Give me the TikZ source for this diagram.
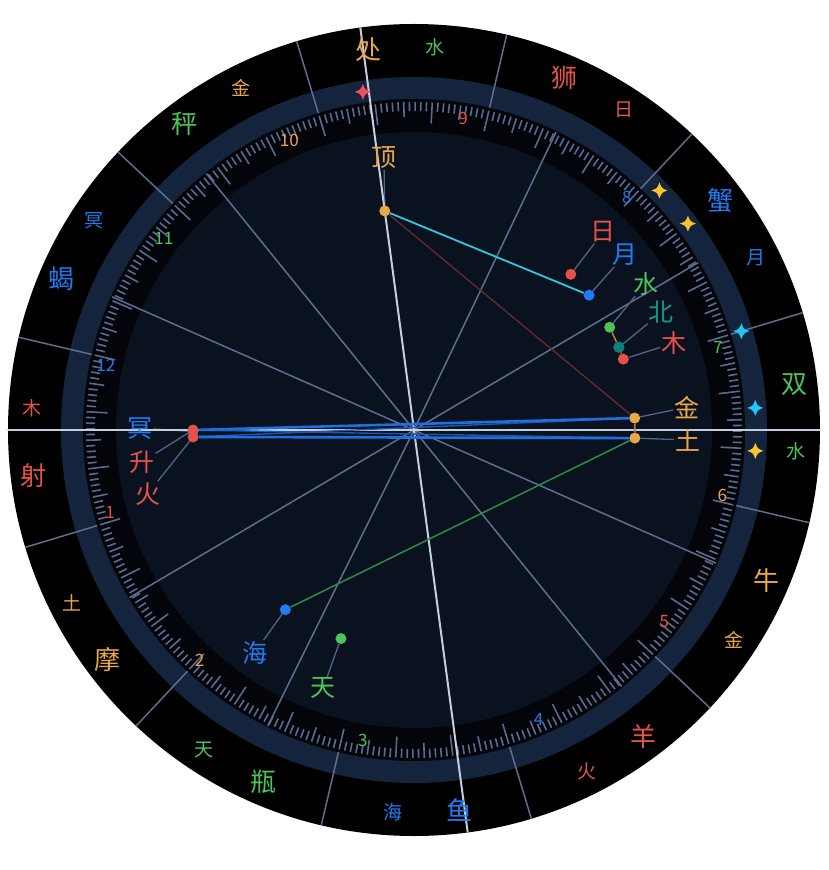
\documentclass[tikz,border=0pt]{standalone}
\usepackage{fontspec}
\setmainfont{Noto Sans CJK SC}
\usepackage{xcolor}
\definecolor{ChartRed}{RGB}{229,82,74}
\definecolor{ChartGold}{RGB}{233,167,72}
\definecolor{ChartGreen}{RGB}{76,196,87}
\definecolor{ChartBlue}{RGB}{31,123,240}
\definecolor{ChartTeal}{RGB}{28,150,140}
\definecolor{DotTeal}{RGB}{18,128,122}
\definecolor{OuterBlack}{RGB}{0,0,0}
\definecolor{BandNavy}{RGB}{20,36,60}
\definecolor{TickBlack}{RGB}{3,5,10}
\definecolor{DiskNavy}{RGB}{10,18,32}
\definecolor{TickGray}{RGB}{92,106,142}
\definecolor{CuspGray}{RGB}{95,110,142}
\definecolor{AxisGray}{RGB}{197,206,220}
\definecolor{LeaderGray}{RGB}{86,98,138}
\definecolor{AspCyan}{RGB}{46,200,224}
\definecolor{AspMaroon}{RGB}{106,46,48}
\definecolor{AspGreen}{RGB}{47,138,74}
\definecolor{AspBlue}{RGB}{30,111,224}
\definecolor{AspBlueDark}{RGB}{26,88,180}
\definecolor{AspGold}{RGB}{170,130,60}
\definecolor{StarRed}{RGB}{240,80,90}
\definecolor{StarYellow}{RGB}{245,197,48}
\definecolor{StarCyan}{RGB}{30,200,245}
\usetikzlibrary{calc}
\pgfdeclarelayer{ring}
\pgfdeclarelayer{link}
\pgfsetlayers{ring,link,main}
\tikzset{
  % Zodiac sign and ruler text
  signlbl/.style={inner sep=1pt, font=\fontsize{26}{30}\selectfont},
  rulerlbl/.style={inner sep=1pt, font=\fontsize{19}{22}\selectfont},
  % House numbers on the tick ring
  housenum/.style={inner sep=1pt, font=\fontsize{17}{20}\selectfont},
  % Planet dot and label
  pdot/.style={circle, minimum size=11, inner sep=0pt},
  planetlbl/.style={inner sep=1pt, font=\fontsize{25}{28}\selectfont},
  % Lines
  tickline/.style={TickGray, line width=1.6},
  signline/.style={CuspGray, line width=1.5},
  cuspline/.style={CuspGray, line width=1.5},
  axisline/.style={AxisGray, line width=2},
  leader/.style={LeaderGray, line width=1.3},
  asp cyan/.style={AspCyan, line width=1.8},
  asp maroon/.style={AspMaroon, line width=1.2},
  asp green/.style={AspGreen, line width=1.5},
  asp blue/.style={AspBlue, line width=2.6},
  asp blue thin/.style={AspBlueDark, line width=1.4},
  asp gold/.style={AspGold, line width=1.6},
  % Four-point star on the band
  sparkle/.pic={
    \fill (0,8) .. controls (2.2,2.2) .. (8,0) .. controls (2.2,-2.2) .. (0,-8)
      .. controls (-2.2,-2.2) .. (-8,0) .. controls (-2.2,2.2) .. (0,8) -- cycle;
  },
}

\begin{document}
\begin{tikzpicture}[x=1pt, y=1pt]
  \useasboundingbox (-414,-440) rectangle (414,430);
  \coordinate (ctr) at (0,0);

  %% Zodiac signs (name at mid+5, ruler at mid-5)
  \foreach \mid/\sgn/\sc/\rul/\rc/\nm in {
      -58.2/羊/ChartRed/火/ChartRed/aries,
      -28.2/牛/ChartGold/金/ChartGold/taurus,
      1.8/双/ChartGreen/水/ChartGreen/gemini,
      31.8/蟹/ChartBlue/月/ChartBlue/cancer,
      61.8/狮/ChartRed/日/ChartRed/leo,
      91.8/处/ChartGold/水/ChartGreen/virgo,
      121.8/秤/ChartGreen/金/ChartGold/libra,
      151.8/蝎/ChartBlue/冥/ChartBlue/scorpio,
      181.8/射/ChartRed/木/ChartRed/sagit,
      211.8/摩/ChartGold/土/ChartGold/capri,
      241.8/瓶/ChartGreen/天/ChartGreen/aqua,
      271.8/鱼/ChartBlue/海/ChartBlue/pisces}
  {
    \node[signlbl, text=\sc] (\nm) at ({\mid+5}:383) {\sgn};
    \node[rulerlbl, text=\rc] (\nm-ruler) at ({\mid-5}:383) {\rul};
  }

  %% House numbers
  \foreach \a/\n/\c in {195.25/1/ChartRed, 227.1/2/ChartGold, 260.65/3/ChartGreen,
      293.3/4/ChartBlue, 322.6/5/ChartRed, 348.1/6/ChartGold, 15.25/7/ChartGreen,
      47.5/8/ChartBlue, 81.05/9/ChartRed, 113.3/10/ChartGold, 142.6/11/ChartGreen,
      168.1/12/ChartBlue}
    \node[housenum, text=\c] (h\n) at (\a:315) {\n};

  %% Planets: dot at r=221, label at r=274
  \foreach \nm/\a/\la/\c/\t in {
      sun/44.8/46.3/ChartRed/日, moon/37.6/39.7/ChartBlue/月,
      merc/27.7/32.3/ChartGreen/水, nnode/22/25.4/ChartTeal/北,
      jup/18.7/18.5/ChartRed/木, venus/3.1/4.8/ChartGold/金,
      sat/-2.1/-2.1/ChartGold/土, nep/234.4/234.4/ChartBlue/海,
      ura/250.7/250.6/ChartGreen/天, pluto/180.4/179.6/ChartBlue/冥,
      asc/180/186.7/ChartRed/升, mars/181.8/193.5/ChartRed/火,
      mc/97.6/96.3/ChartGold/顶}
  {
    \node[pdot, fill=\c] (\nm) at (\a:221) {};
    \node[planetlbl, text=\c] (\nm-lbl) at (\la:274) {\t};
  }
  \node[pdot, fill=DotTeal] at (nnode) {};

  %% Stars on the band
  \pic[color=StarRed]    at (98.6:342) {sparkle};
  \pic[color=StarYellow] at (44.3:343) {sparkle};
  \pic[color=StarYellow] at (37.0:343) {sparkle};
  \pic[color=StarCyan]   at (16.8:342) {sparkle};
  \pic[color=StarCyan]   at (3.7:342)  {sparkle};
  \pic[color=StarYellow] at (-3.5:342) {sparkle};

  \begin{pgfonlayer}{ring}
    %% Rings
    \fill[white] (-414,-440) rectangle (414,430);
    \fill[OuterBlack] (ctr) circle (406);
    \fill[BandNavy] (ctr) circle (353);
    \fill[TickBlack] (ctr) circle (331);
    \fill[DiskNavy] (ctr) circle (298);

    %% Degree ticks
    \foreach \d in {0,...,359} {
      \pgfmathsetmacro\tl{ifthenelse(mod(\d,10)==0,21,ifthenelse(mod(\d,5)==0,15,9))}
      \draw[tickline] ({16.8+\d}:328) -- ({16.8+\d}:{328-\tl});
    }

    %% Sign boundaries
    \foreach \k in {0,...,11}
      \draw[signline] ({16.8+30*\k}:331) -- ({16.8+30*\k}:406);

    %% House cusps
    \foreach \a in {210.5,243.7,309,336.2,30.5,64.5,129,156.2}
      \draw[cuspline] (ctr) -- (\a:330);

    %% Leaders from dots to labels
    \foreach \nm in {sun,moon,merc,nnode,jup,venus,sat,nep,ura,pluto,asc,mars,mc}
      \draw[leader] (\nm) -- (\nm-lbl);

    %% Angles
    \coordinate (asc-rim) at (180:406);
    \coordinate (dsc-rim) at (0:406);
    \coordinate (mc-rim) at (97.6:406);
    \coordinate (ic-rim) at (277.6:406);
    \draw[axisline] (asc-rim) -- (dsc-rim);
    \draw[axisline] (mc-rim) -- (ic-rim);
  \end{pgfonlayer}

  %% Aspects
  \begin{pgfonlayer}{link}
    \draw[asp cyan] (mc) -- (moon);
    \draw[asp maroon] (mc) -- (venus);
    \draw[asp green] (nep) -- (sat);
    \draw[asp blue thin] (asc) -- (sat);
    \draw[asp blue thin] (mars) -- (venus);
    \draw[asp blue] (asc) -- (venus);
    \draw[asp blue] (mars) -- (sat);
    \draw[asp gold] (venus) -- (sat);
    \draw[asp gold] (merc) -- (nnode);
    \draw[asp gold] (nnode) -- (jup);
  \end{pgfonlayer}
\end{tikzpicture}
\end{document}
